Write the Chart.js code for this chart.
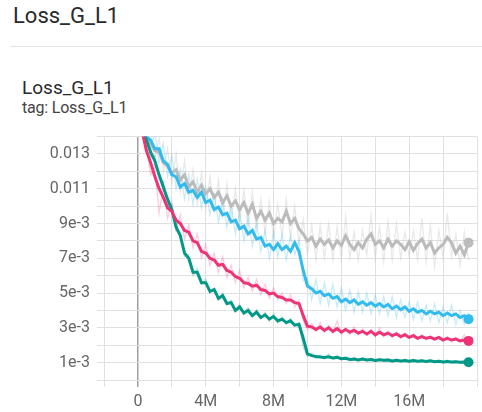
<!DOCTYPE html>
<html>
<head>
<meta charset="utf-8">
<script src="https://cdn.jsdelivr.net/npm/chart.js@4.4.1/dist/chart.umd.min.js"></script>
<style>
  html, body { margin: 0; padding: 0; background: #fff; }
  body { width: 482px; height: 412px; position: relative; overflow: hidden;
         font-family: Roboto, "Noto Sans", sans-serif; }
  .card-title { position: absolute; left: 13px; top: 5px; font-size: 22px; line-height: 22px; color: #2a2a2a; white-space: nowrap; }
  .divider { position: absolute; left: 10px; right: 0; top: 46px; height: 1px; background: #e4e4e4; }
  .run-title { position: absolute; left: 22px; top: 78px; font-size: 19px; line-height: 19px; color: #2a2a2a; white-space: nowrap; }
  .run-tag { position: absolute; left: 22px; top: 100px; font-size: 16px; line-height: 16px; color: #444; white-space: nowrap; letter-spacing: -0.2px; }
  #wrap { position: absolute; left: 0; top: 120px; width: 482px; height: 292px; }
</style>
</head>
<body>
<div class="card-title">Loss_G_L1</div>
<div class="divider"></div>
<div class="run-title">Loss_G_L1</div>
<div class="run-tag">tag: Loss_G_L1</div>
<div id="wrap"><canvas id="chart"></canvas></div>

<script>
// Training step (millions)
const steps = [
  0.25, 0.5, 0.75, 1, 1.25, 1.5, 1.75, 2,
  2.25, 2.5, 2.75, 3, 3.25, 3.5, 3.75, 4,
  4.25, 4.5, 4.75, 5, 5.25, 5.5, 5.75, 6,
  6.25, 6.5, 6.75, 7, 7.25, 7.5, 7.75, 8,
  8.25, 8.5, 8.75, 9, 9.25, 9.5, 9.75, 10,
  10.25, 10.5, 10.75, 11, 11.25, 11.5, 11.75, 12,
  12.25, 12.5, 12.75, 13, 13.25, 13.5, 13.75, 14,
  14.25, 14.5, 14.75, 15, 15.25, 15.5, 15.75, 16,
  16.25, 16.5, 16.75, 17, 17.25, 17.5, 17.75, 18,
  18.25, 18.5, 18.75, 19, 19.25, 19.5
];

// Run 1 (grey)
const greySmooth = [
  14.5e-3, 14.0e-3, 13.6e-3, 13.2e-3, 13.1e-3, 12.5e-3, 12.3e-3, 11.9e-3,
  12.1e-3, 11.5e-3, 11.8e-3, 11.1e-3, 11.4e-3, 10.8e-3, 11.2e-3, 10.7e-3,
  11.0e-3, 10.5e-3, 10.8e-3, 10.2e-3, 10.6e-3, 10.0e-3, 10.3e-3, 9.8e-3,
  10.2e-3, 9.6e-3, 10.1e-3, 9.3e-3, 9.7e-3, 9.2e-3, 9.6e-3, 9.0e-3,
  9.3e-3, 9.1e-3, 9.7e-3, 9.0e-3, 9.3e-3, 8.7e-3, 8.4e-3, 8.0e-3,
  8.2e-3, 7.7e-3, 8.1e-3, 7.8e-3, 8.05e-3, 7.6e-3, 8.0e-3, 7.75e-3,
  8.3e-3, 7.8e-3, 7.5e-3, 7.9e-3, 7.6e-3, 8.1e-3, 8.4e-3, 7.8e-3,
  8.0e-3, 7.6e-3, 8.1e-3, 7.7e-3, 8.0e-3, 7.8e-3, 7.5e-3, 7.95e-3,
  7.45e-3, 7.85e-3, 8.1e-3, 7.6e-3, 7.9e-3, 7.3e-3, 7.6e-3, 7.8e-3,
  8.2e-3, 7.9e-3, 7.3e-3, 7.7e-3, 7.2e-3, 7.9e-3
];
const greyRaw = [
  14.9e-3, 13.6e-3, 14.3e-3, 12.7e-3, 13.9e-3, 12.0e-3, 13.3e-3, 11.3e-3,
  13.0e-3, 10.8e-3, 12.6e-3, 10.4e-3, 12.1e-3, 10.1e-3, 11.9e-3, 9.9e-3,
  11.7e-3, 9.8e-3, 11.5e-3, 9.5e-3, 11.3e-3, 9.2e-3, 11.0e-3, 9.0e-3,
  10.9e-3, 8.8e-3, 10.8e-3, 8.6e-3, 10.4e-3, 8.5e-3, 10.3e-3, 8.2e-3,
  10.1e-3, 8.3e-3, 10.4e-3, 8.2e-3, 10.0e-3, 7.9e-3, 9.2e-3, 7.2e-3,
  8.9e-3, 6.9e-3, 8.9e-3, 7.0e-3, 9.0e-3, 6.9e-3, 8.8e-3, 7.0e-3,
  9.4e-3, 7.0e-3, 8.5e-3, 6.9e-3, 8.6e-3, 7.2e-3, 9.5e-3, 7.0e-3,
  8.8e-3, 6.8e-3, 9.1e-3, 6.9e-3, 9.0e-3, 7.0e-3, 8.5e-3, 7.1e-3,
  8.6e-3, 6.9e-3, 9.3e-3, 6.8e-3, 8.9e-3, 6.5e-3, 8.6e-3, 7.0e-3,
  9.6e-3, 7.1e-3, 8.4e-3, 6.6e-3, 8.5e-3, 6.9e-3
];

// Run 2 (cyan)
const cyanSmooth = [
  14.6e-3, 14.0e-3, 13.8e-3, 13.3e-3, 13.3e-3, 12.6e-3, 12.4e-3, 11.8e-3,
  11.7e-3, 11.1e-3, 11.3e-3, 10.8e-3, 10.9e-3, 10.5e-3, 10.8e-3, 10.2e-3,
  10.35e-3, 9.8e-3, 9.95e-3, 9.5e-3, 9.6e-3, 9.1e-3, 9.2e-3, 8.7e-3,
  8.85e-3, 8.4e-3, 8.6e-3, 8.1e-3, 8.2e-3, 7.7e-3, 7.8e-3, 7.5e-3,
  7.85e-3, 7.5e-3, 7.7e-3, 7.4e-3, 7.9e-3, 7.4e-3, 6.3e-3, 5.4e-3,
  5.25e-3, 5.0e-3, 5.1e-3, 4.85e-3, 4.95e-3, 4.7e-3, 4.8e-3, 4.5e-3,
  4.65e-3, 4.45e-3, 4.6e-3, 4.35e-3, 4.5e-3, 4.3e-3, 4.45e-3, 4.25e-3,
  4.4e-3, 4.2e-3, 4.35e-3, 4.1e-3, 4.25e-3, 4.05e-3, 4.2e-3, 3.95e-3,
  4.1e-3, 3.9e-3, 4.0e-3, 3.8e-3, 3.95e-3, 3.8e-3, 3.9e-3, 3.7e-3,
  3.85e-3, 3.7e-3, 3.8e-3, 3.6e-3, 3.7e-3, 3.5e-3
];
const cyanRaw = [
  14.2e-3, 14.9e-3, 13.1e-3, 14.3e-3, 12.5e-3, 13.6e-3, 11.7e-3, 12.9e-3,
  11.0e-3, 12.1e-3, 10.4e-3, 11.8e-3, 10.1e-3, 11.5e-3, 9.9e-3, 11.1e-3,
  9.5e-3, 10.7e-3, 9.1e-3, 10.4e-3, 8.8e-3, 10.0e-3, 8.4e-3, 9.7e-3,
  8.0e-3, 9.4e-3, 7.7e-3, 9.1e-3, 7.4e-3, 8.6e-3, 7.0e-3, 8.5e-3,
  7.1e-3, 8.4e-3, 6.9e-3, 8.3e-3, 7.2e-3, 8.0e-3, 5.7e-3, 5.9e-3,
  4.6e-3, 5.8e-3, 4.4e-3, 5.6e-3, 4.3e-3, 5.5e-3, 4.2e-3, 5.3e-3,
  4.0e-3, 5.2e-3, 3.9e-3, 5.1e-3, 3.9e-3, 5.0e-3, 3.8e-3, 4.9e-3,
  3.8e-3, 4.8e-3, 3.7e-3, 4.8e-3, 3.6e-3, 4.6e-3, 3.6e-3, 4.5e-3,
  3.5e-3, 4.5e-3, 3.4e-3, 4.3e-3, 3.4e-3, 4.4e-3, 3.3e-3, 4.2e-3,
  3.3e-3, 4.3e-3, 3.2e-3, 4.0e-3, 3.2e-3, 3.9e-3
];

// Run 3 (magenta)
const magentaSmooth = [
  14.3e-3, 13.2e-3, 12.5e-3, 11.7e-3, 11.0e-3, 10.5e-3, 9.9e-3, 9.7e-3,
  9.2e-3, 9.0e-3, 8.6e-3, 8.5e-3, 8.0e-3, 7.9e-3, 7.4e-3, 7.3e-3,
  7.0e-3, 6.9e-3, 6.6e-3, 6.65e-3, 6.3e-3, 6.2e-3, 5.95e-3, 5.85e-3,
  5.6e-3, 5.55e-3, 5.4e-3, 5.45e-3, 5.2e-3, 5.15e-3, 4.95e-3, 5.0e-3,
  4.8e-3, 4.75e-3, 4.6e-3, 4.6e-3, 4.45e-3, 4.4e-3, 3.7e-3, 3.1e-3,
  3.05e-3, 2.9e-3, 3.05e-3, 2.85e-3, 3.0e-3, 2.8e-3, 2.95e-3, 2.75e-3,
  2.9e-3, 2.75e-3, 2.85e-3, 2.7e-3, 2.8e-3, 2.65e-3, 2.8e-3, 2.6e-3,
  2.75e-3, 2.6e-3, 2.7e-3, 2.55e-3, 2.65e-3, 2.5e-3, 2.6e-3, 2.45e-3,
  2.55e-3, 2.4e-3, 2.5e-3, 2.4e-3, 2.45e-3, 2.35e-3, 2.45e-3, 2.3e-3,
  2.4e-3, 2.3e-3, 2.35e-3, 2.25e-3, 2.3e-3, 2.25e-3
];
const magentaRaw = [
  14.0e-3, 13.5e-3, 11.8e-3, 12.3e-3, 9.6e-3, 11.2e-3, 9.3e-3, 10.2e-3,
  8.6e-3, 9.5e-3, 8.1e-3, 8.9e-3, 7.6e-3, 8.4e-3, 7.0e-3, 7.8e-3,
  6.6e-3, 7.3e-3, 6.2e-3, 7.1e-3, 5.9e-3, 6.6e-3, 5.6e-3, 6.3e-3,
  5.3e-3, 5.9e-3, 5.1e-3, 5.8e-3, 4.9e-3, 5.5e-3, 4.7e-3, 5.3e-3,
  4.6e-3, 5.0e-3, 4.4e-3, 4.9e-3, 4.2e-3, 4.6e-3, 3.4e-3, 2.9e-3,
  3.25e-3, 2.8e-3, 3.3e-3, 2.75e-3, 3.15e-3, 2.7e-3, 3.4e-3, 2.65e-3,
  3.0e-3, 2.6e-3, 3.05e-3, 2.6e-3, 2.95e-3, 2.55e-3, 2.9e-3, 2.5e-3,
  3.0e-3, 2.5e-3, 2.8e-3, 2.45e-3, 2.75e-3, 2.4e-3, 2.7e-3, 2.4e-3,
  2.65e-3, 2.35e-3, 2.6e-3, 2.3e-3, 2.55e-3, 2.3e-3, 2.5e-3, 2.25e-3,
  2.5e-3, 2.2e-3, 2.45e-3, 2.2e-3, 2.6e-3, 2.2e-3
];

// Run 4 (teal)
const tealSmooth = [
  14.6e-3, 13.8e-3, 13.1e-3, 12.6e-3, 11.8e-3, 11.1e-3, 10.4e-3, 9.8e-3,
  8.8e-3, 8.3e-3, 7.3e-3, 7.0e-3, 6.2e-3, 6.2e-3, 5.6e-3, 5.6e-3,
  5.1e-3, 5.2e-3, 4.7e-3, 4.85e-3, 4.4e-3, 4.45e-3, 4.0e-3, 4.2e-3,
  3.85e-3, 4.0e-3, 3.7e-3, 3.9e-3, 3.6e-3, 3.75e-3, 3.5e-3, 3.65e-3,
  3.4e-3, 3.5e-3, 3.3e-3, 3.4e-3, 3.15e-3, 3.2e-3, 2.4e-3, 1.5e-3,
  1.4e-3, 1.35e-3, 1.32e-3, 1.3e-3, 1.33e-3, 1.27e-3, 1.3e-3, 1.22e-3,
  1.25e-3, 1.18e-3, 1.2e-3, 1.15e-3, 1.2e-3, 1.15e-3, 1.18e-3, 1.12e-3,
  1.17e-3, 1.13e-3, 1.15e-3, 1.1e-3, 1.14e-3, 1.1e-3, 1.12e-3, 1.08e-3,
  1.12e-3, 1.08e-3, 1.1e-3, 1.06e-3, 1.1e-3, 1.05e-3, 1.08e-3, 1.04e-3,
  1.07e-3, 1.03e-3, 1.05e-3, 1.02e-3, 1.04e-3, 1.02e-3
];
const tealRaw = [
  14.4e-3, 14.0e-3, 12.8e-3, 12.9e-3, 11.5e-3, 11.4e-3, 10.0e-3, 10.1e-3,
  8.6e-3, 8.5e-3, 7.1e-3, 7.2e-3, 6.0e-3, 6.4e-3, 5.5e-3, 5.8e-3,
  5.0e-3, 5.3e-3, 4.6e-3, 5.0e-3, 4.3e-3, 4.6e-3, 3.95e-3, 4.35e-3,
  3.8e-3, 4.15e-3, 3.65e-3, 4.05e-3, 3.55e-3, 3.9e-3, 3.4e-3, 3.8e-3,
  3.3e-3, 3.65e-3, 3.2e-3, 3.55e-3, 3.1e-3, 3.3e-3, 1.9e-3, 1.35e-3,
  1.55e-3, 1.25e-3, 1.45e-3, 1.2e-3, 1.5e-3, 1.2e-3, 1.4e-3, 1.15e-3,
  1.35e-3, 1.1e-3, 1.3e-3, 1.1e-3, 1.3e-3, 1.08e-3, 1.28e-3, 1.05e-3,
  1.25e-3, 1.05e-3, 1.25e-3, 1.02e-3, 1.22e-3, 1.02e-3, 1.2e-3, 1.0e-3,
  1.2e-3, 1.0e-3, 1.18e-3, 0.98e-3, 1.16e-3, 0.98e-3, 1.15e-3, 0.96e-3,
  1.14e-3, 0.96e-3, 1.12e-3, 0.95e-3, 1.1e-3, 0.98e-3
];

// Axis ticks: grid every 2M / 0.001, labels on every second line
const xTickLabels = ['0', '4M', '8M', '12M', '16M'];
const yTickLabels = ['1e-3', '3e-3', '5e-3', '7e-3', '9e-3', '0.011', '0.013'];

const runs = [
  { smooth: magentaSmooth, raw: magentaRaw, color: '#ee3377', faint: 'rgba(238,51,119,0.25)' },
  { smooth: tealSmooth,    raw: tealRaw,    color: '#009988', faint: 'rgba(0,153,136,0.25)' },
  { smooth: cyanSmooth,    raw: cyanRaw,    color: '#33bbee', faint: 'rgba(51,187,238,0.28)' },
  { smooth: greySmooth,    raw: greyRaw,    color: '#bbbbbb', faint: 'rgba(187,187,187,0.32)' }
];

const toPoints = arr => steps.map((s, i) => ({ x: s, y: arr[i] }));

const datasets = [];
runs.forEach((r, i) => {
  datasets.push({
    data: toPoints(r.smooth),
    borderColor: r.color,
    backgroundColor: r.color,
    borderWidth: 3,
    borderJoinStyle: 'miter',
    order: i,
    clip: 0,
    pointRadius: ctx => (ctx.dataIndex === steps.length - 1 ? 5 : 0),
    pointBorderWidth: 0,
    pointBackgroundColor: r.color
  });
  datasets.push({
    data: toPoints(r.raw),
    borderColor: r.faint,
    borderWidth: 1.3,
    order: 10 + i,
    clip: 0,
    pointRadius: 0
  });
});

const tickFont = { family: 'Roboto', size: 16 };

new Chart(document.getElementById('chart'), {
  type: 'line',
  data: { datasets },
  options: {
    responsive: true,
    maintainAspectRatio: false,
    animation: false,
    events: [],
    layout: { padding: { top: 13, right: 1, left: 0, bottom: 0 } },
    elements: { line: { tension: 0 } },
    plugins: { legend: { display: false }, tooltip: { enabled: false } },
    scales: {
      x: {
        type: 'linear',
        min: -2,
        max: 20,
        border: { display: false },
        grid: {
          color: ctx => (ctx.tick && ctx.tick.value === 0 ? '#a0a0a0' : '#e0e0e0'),
          lineWidth: ctx => (ctx.tick && ctx.tick.value === 0 ? 1.5 : 1),
          tickLength: 7
        },
        ticks: {
          stepSize: 2,
          autoSkip: false,
          maxRotation: 0,
          padding: 5,
          color: '#666',
          font: tickFont,
          callback: v => {
            const k = Math.round(v);
            return (k >= 0 && k % 4 === 0 && k / 4 < xTickLabels.length) ? xTickLabels[k / 4] : '';
          }
        },
        afterFit: s => { s.height = 32; }
      },
      y: {
        min: 0,
        max: 0.014,
        border: { display: false },
        grid: { color: '#e0e0e0', lineWidth: 1, tickLength: 7 },
        ticks: {
          stepSize: 0.001,
          autoSkip: false,
          padding: 7,
          color: '#666',
          font: tickFont,
          callback: v => {
            const k = Math.round(v * 1000);
            return (k % 2 === 1) ? yTickLabels[(k - 1) / 2] : '';
          }
        },
        afterFit: s => { s.width = 104; }
      }
    }
  }
});
</script>
</body>
</html>
